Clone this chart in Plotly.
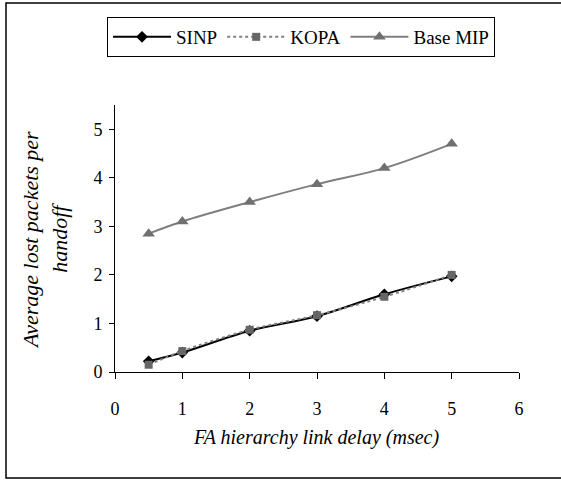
import plotly.graph_objects as go

delay = [0.5, 1, 2, 3, 4, 5]
sinp = [0.22, 0.40, 0.85, 1.15, 1.60, 1.97]
kopa = [0.15, 0.43, 0.87, 1.17, 1.55, 2.00]
base_mip = [2.85, 3.10, 3.50, 3.87, 4.20, 4.70]

x_ticks = [0, 1, 2, 3, 4, 5, 6]
y_ticks = [0, 1, 2, 3, 4, 5]

W, H = 561, 481
L, R, T, B = 115, 42, 105, 109
pw, ph = W - L - R, H - T - B

def px(xp):
    return (xp - L) / pw

def py(yp):
    return (H - B - yp) / ph

FONT = "Liberation Serif"

fig = go.Figure()
fig.add_trace(go.Scatter(
    x=delay, y=sinp, name="SINP", mode="lines+markers",
    line=dict(color="black", width=2, shape="spline"),
    marker=dict(symbol="diamond", size=9, color="black"),
))
fig.add_trace(go.Scatter(
    x=delay, y=kopa, name="KOPA", mode="lines+markers",
    line=dict(color="#808080", width=2, dash="dot", shape="spline"),
    marker=dict(symbol="square", size=8, color="#666666"),
))
fig.add_trace(go.Scatter(
    x=delay, y=base_mip, name="Base MIP", mode="lines+markers",
    line=dict(color="#7f7f7f", width=2, shape="spline"),
    marker=dict(symbol="triangle-up", size=11, color="#707070"),
))

fig.update_layout(
    width=W, height=H,
    margin=dict(l=L, r=R, t=T, b=B, autoexpand=False),
    paper_bgcolor="white", plot_bgcolor="white",
    font=dict(family=FONT, size=18, color="black"),
    showlegend=True,
    legend=dict(
        orientation="h", x=px(107), y=py(17), xanchor="left", yanchor="top",
        bordercolor="black", borderwidth=1, bgcolor="white",
        font=dict(family=FONT, size=19, color="black"),
        itemwidth=58,
    ),
    xaxis=dict(
        range=[0, 6], tickvals=x_ticks, ticktext=[str(v) for v in x_ticks],
        showgrid=False, zeroline=False, showline=True, linecolor="black", linewidth=1,
        ticks="outside", ticklen=6, tickcolor="black", ticklabelstandoff=14,
        tickfont=dict(family=FONT, size=18),
    ),
    yaxis=dict(
        range=[0, 5.5], tickvals=y_ticks, ticktext=[str(v) for v in y_ticks],
        showgrid=False, zeroline=False, showline=True, linecolor="black", linewidth=1,
        ticks="outside", ticklen=5, tickcolor="black", ticklabelstandoff=3,
        tickfont=dict(family=FONT, size=18),
    ),
    annotations=[
        dict(text="<i>Average lost packets per<br>handoff</i>", xref="paper", yref="paper",
             x=px(45), y=py(240), textangle=-90, showarrow=False,
             font=dict(family=FONT, size=22), xanchor="center", yanchor="middle"),
        dict(text="<i>FA hierarchy link delay (msec)</i>", xref="paper", yref="paper",
             x=px(316), y=py(437), showarrow=False,
             font=dict(family=FONT, size=20), xanchor="center", yanchor="middle"),
    ],
    shapes=[
        dict(type="rect", xref="paper", yref="paper",
             x0=px(6), x1=px(570), y0=py(478), y1=py(3),
             line=dict(color="black", width=1.5), layer="below"),
    ],
)

fig.write_html("out.html")
